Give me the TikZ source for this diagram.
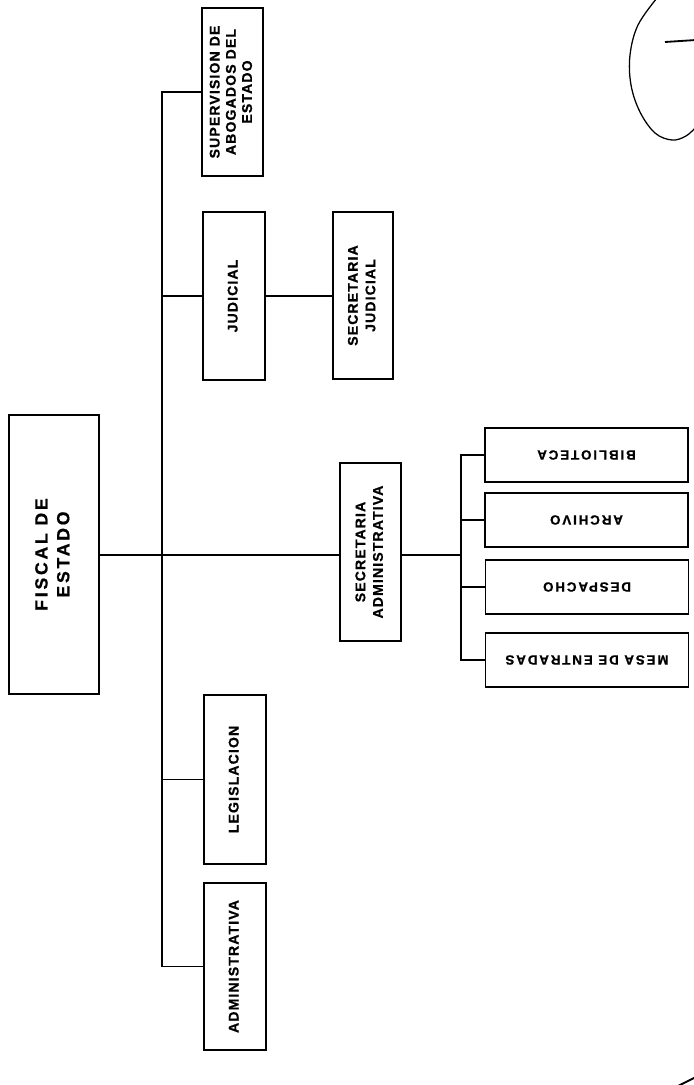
\documentclass[tikz,border=0pt]{standalone}
\usepackage{fontspec}
\setmainfont{Liberation Sans}
\newfontfamily\cajafont[LetterSpace=8, UprightFont={* Bold}, FakeBold=0.8]{Liberation Sans}
\newfontfamily\jefefont[LetterSpace=16, UprightFont={* Bold}, FakeBold=0.8]{Liberation Sans}
\newfontfamily\seccfont[LetterSpace=14, UprightFont={* Bold}, FakeBold=0.8]{Liberation Sans}
\usepackage{graphicx}
\usetikzlibrary{calc}
\def\px{0.025cm}
\def\vtext#1#2#3{\rotatebox{90}{\cajafont\fontsize{#1}{#2}\selectfont\begin{tabular}{@{}c@{}}#3\end{tabular}}}
\def\utext#1{\rotatebox{180}{\seccfont\fontsize{9.5}{12}\selectfont #1}}
\tikzset{
	oficina/.style={draw, line width=1.1pt, inner sep=0pt, minimum width=61*\px, minimum height=168*\px},
	seccion/.style={oficina, minimum width=203*\px, minimum height=54*\px},
	linea/.style={line width=0.9pt},
}

\begin{document}
\begin{tikzpicture}[x=\px, y=-\px]
			%%%%% START %%%%%
			\useasboundingbox (0, 0) rectangle (694, 1085);
			
			\node[oficina, minimum width=90*\px, minimum height=279*\px] (fiscal) at (54, 554.5) {\rotatebox{90}{\jefefont\fontsize{12.5}{15.5}\selectfont\begin{tabular}{@{}c@{}}FISCAL DE\\ESTADO\end{tabular}}};
			
			\node[oficina] (sup) at (232.5, 92) {\vtext{10}{11.5}{SUPERVISION DE\\ABOGADOS DEL\\ESTADO}};
			\node[oficina, minimum width=62*\px] (jud) at (234, 296) {\vtext{10}{12.5}{JUDICIAL}};
			\node[oficina, minimum width=60*\px, minimum height=167*\px] (secjud) at (363, 295.5) {\vtext{10}{12.5}{SECRETARIA\\JUDICIAL}};
			\node[oficina, minimum height=178*\px] (secadm) at (370.5, 552) {\vtext{10}{12.5}{SECRETARIA\\ADMINISTRATIVA}};
			\node[oficina, minimum width=62*\px, minimum height=169*\px] (leg) at (235, 779.5) {\vtext{10}{12.5}{LEGISLACION}};
			\node[oficina, minimum width=62*\px, minimum height=167*\px] (adm) at (235, 966.5) {\vtext{10}{12.5}{ADMINISTRATIVA}};
			
			\node[seccion] (bib) at (586.5, 455) {\utext{BIBLIOTECA}};
			\node[seccion] (arch) at (586.5, 520) {\utext{ARCHIVO}};
			\node[seccion] (desp) at (587, 587) {\utext{DESPACHO}};
			\node[seccion] (mesa) at (587, 660) {\utext{MESA DE ENTRADAS}};
			
			\coordinate (hub) at (162, 555);
			\coordinate (shub) at (461, 555);
			
			\draw[linea] (fiscal.east |- hub) -- (hub -| secadm.west);
			\foreach \n in {sup, jud, leg, adm}
				\draw[linea] (hub) |- (\n.west);
			\draw[linea] (jud.east) -- (jud.east -| secjud.west);
			\draw[linea] (shub -| secadm.east) -- (shub);
			\foreach \n in {bib, arch, desp, mesa}
				\draw[linea] (shub) |- (\n.west);
			
			% sello
			\begin{scope}
				\clip (0, 0) rectangle (694, 1085);
				\draw[line width=0.9pt] plot[smooth, tension=0.6] coordinates {(657, -2) (638, 25) (630, 55) (631, 85) (640, 112) (655, 133) (672, 140) (686, 136) (696, 127)};
				\draw[line width=1.3pt] (665, 42) -- (696, 40);
				\draw[line width=1.3pt] (676, 1087) -- (696, 1077);
			\end{scope}
			%%%%% END %%%%%
\end{tikzpicture}
\end{document}
